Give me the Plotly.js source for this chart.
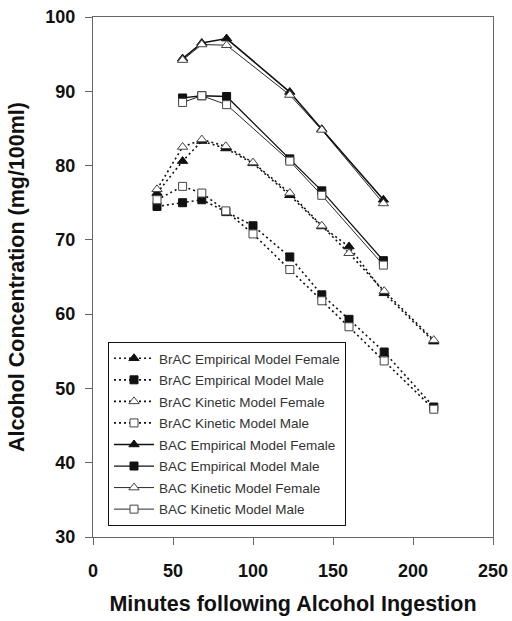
<!DOCTYPE html>
<html>
<head>
<meta charset="utf-8">
<script src="https://cdn.plot.ly/plotly-3.0.1.min.js"></script>
<style>html,body{margin:0;padding:0;background:#fff;}#chart{width:512px;height:621px;}</style>
</head>
<body>
<div id="chart"></div>
<script>
// Minutes following ingestion
const brTimes = [40, 56, 68, 83, 100, 123, 143, 160, 182, 213];
const bTimes = [56, 68, 83.5, 123, 143, 181.5];

// BrAC (dotted)
const brEmpFemale = [76.3, 80.6, 83.3, 82.3, 80.3, 76.0, 71.8, 69.1, 62.8, 56.3];
const brEmpMale   = [74.5, 75.0, 75.4, 73.8, 71.9, 67.7, 62.6, 59.3, 54.9, 47.5];
const brKinFemale = [76.8, 82.5, 83.5, 82.6, 80.4, 76.3, 71.9, 68.2, 63.1, 56.5];
const brKinMale   = [75.4, 77.2, 76.3, 73.9, 70.8, 66.0, 61.8, 58.3, 53.7, 47.2];

// BAC (solid)
const bEmpFemale = [94.4, 96.5, 97.1, 89.9, 84.9, 75.4];
const bEmpMale   = [89.1, 89.4, 89.3, 80.9, 76.6, 67.2];
const bKinFemale = [94.2, 96.3, 96.2, 89.5, 84.8, 74.9];
const bKinMale   = [88.5, 89.4, 88.2, 80.6, 76.0, 66.6];

const names = [
  'BrAC Empirical Model Female', 'BrAC Empirical Model Male',
  'BrAC Kinetic Model Female', 'BrAC Kinetic Model Male',
  'BAC Empirical Model Female', 'BAC Empirical Model Male',
  'BAC Kinetic Model Female', 'BAC Kinetic Model Male'
];

function tr(i, x, y, dotted, sym, filled, lw) {
  return {
    type: 'scatter', mode: 'lines+markers', x: x, y: y, name: names[i],
    legendgroup: 'g' + i,
    line: {color: '#111', width: lw, dash: dotted ? '2px,3px' : 'solid'},
    marker: {
      symbol: sym, size: sym === 'square' ? 8 : 9,
      color: filled ? '#111' : '#fff',
      line: {color: filled ? '#111' : '#444', width: 1}
    },
    cliponaxis: false
  };
}

const data = [
  tr(0, brTimes, brEmpFemale, true, 'triangle-up', true, 1.6),
  tr(1, brTimes, brEmpMale, true, 'square', true, 1.6),
  tr(2, brTimes, brKinFemale, true, 'triangle-up', false, 1.6),
  tr(3, brTimes, brKinMale, true, 'square', false, 1.6),
  tr(4, bTimes, bEmpFemale, false, 'triangle-up', true, 1.6),
  tr(5, bTimes, bEmpMale, false, 'square', true, 1.3),
  tr(6, bTimes, bKinFemale, false, 'triangle-up', false, 0.9),
  tr(7, bTimes, bKinMale, false, 'square', false, 0.9)
];

const FF = 'Liberation Sans, Arial, sans-serif';
const tickFont = {family: FF, size: 18, color: '#111', weight: 'bold'};
const titleFont = {family: FF, size: 21.5, color: '#111', weight: 'bold'};
const layout = {
  width: 512, height: 621,
  margin: {l: 93, r: 19, t: 17, b: 84},
  paper_bgcolor: '#fff', plot_bgcolor: '#fff',
  showlegend: true,
  font: {family: FF, color: '#111'},
  xaxis: {
    range: [0, 250], tickvals: [0, 50, 100, 150, 200, 250],
    ticks: 'outside', ticklen: 7, tickcolor: '#666', tickwidth: 1,
    showline: true, linecolor: '#666', linewidth: 1, mirror: true,
    showgrid: false, zeroline: false, tickfont: tickFont, ticklabelstandoff: 10,
    title: {text: 'Minutes following Alcohol Ingestion', font: titleFont, standoff: 16}
  },
  yaxis: {
    range: [30, 100], tickvals: [30, 40, 50, 60, 70, 80, 90, 100],
    ticks: 'outside', ticklen: 7, tickcolor: '#666', tickwidth: 1,
    showline: true, linecolor: '#666', linewidth: 1, mirror: true,
    showgrid: false, zeroline: false, tickfont: tickFont, ticklabelstandoff: 6,
    title: {text: 'Alcohol Concentration (mg/100ml)', font: titleFont, standoff: 14}
  },
  legend: {
    x: 0.0375, y: 0.375, xanchor: 'left', yanchor: 'top',
    bgcolor: '#fff', bordercolor: '#111', borderwidth: 1,
    font: {family: FF, size: 13.5, color: '#333'},
    traceorder: 'grouped', tracegroupgap: 1, itemwidth: 40
  }
};

Plotly.newPlot('chart', data, layout, {displayModeBar: false, staticPlot: true});
</script>
</body>
</html>
